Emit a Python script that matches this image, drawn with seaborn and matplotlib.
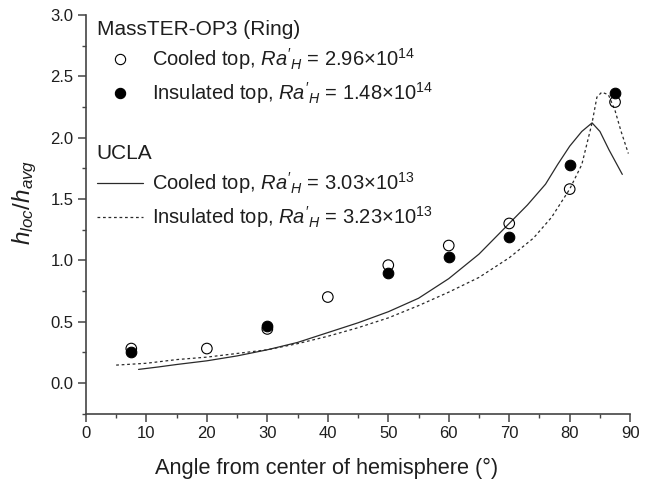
import numpy as np
import pandas as pd
import matplotlib
matplotlib.use("Agg")
import matplotlib.pyplot as plt
from matplotlib.lines import Line2D
from matplotlib.ticker import MultipleLocator
import seaborn as sns

# MassTER-OP3 (Ring) measurements
cooled_angle = [7.5, 20, 30, 40, 50, 60, 70, 80, 87.5]
cooled_h = [0.28, 0.28, 0.44, 0.70, 0.96, 1.12, 1.30, 1.58, 2.29]
insul_angle = [7.5, 30, 50, 60, 70, 80, 87.5]
insul_h = [0.25, 0.46, 0.90, 1.03, 1.19, 1.78, 2.36]

# UCLA profiles
ucla_cooled_angle = [8.7, 12, 15, 20, 25, 30, 35, 40, 45, 50, 55, 60, 65, 70,
                     73, 76, 78, 80, 82, 83.7, 85, 86.5, 88.7]
ucla_cooled_h = [0.11, 0.13, 0.15, 0.18, 0.22, 0.27, 0.33, 0.41, 0.49, 0.58,
                 0.69, 0.85, 1.05, 1.30, 1.45, 1.62, 1.78, 1.93, 2.05, 2.12,
                 2.05, 1.90, 1.70]
ucla_insul_angle = [5, 10, 15, 20, 25, 30, 35, 40, 45, 50, 55, 60, 65, 70, 74,
                    77, 80, 82, 83.7, 84.5, 85.3, 86.4, 87.5, 88.5, 89.7]
ucla_insul_h = [0.145, 0.16, 0.19, 0.21, 0.24, 0.27, 0.32, 0.38, 0.45, 0.53,
                0.63, 0.74, 0.86, 1.02, 1.18, 1.35, 1.58, 1.78, 2.12, 2.33,
                2.37, 2.35, 2.22, 2.05, 1.87]

lbl_c1 = r"Cooled top, $Ra'_{H}$ = 2.96×10$^{14}$"
lbl_i1 = r"Insulated top, $Ra'_{H}$ = 1.48×10$^{14}$"
lbl_c2 = r"Cooled top, $Ra'_{H}$ = 3.03×10$^{13}$"
lbl_i2 = r"Insulated top, $Ra'_{H}$ = 3.23×10$^{13}$"

sns.set_theme(style="ticks")
plt.rcParams["font.family"] = ["Liberation Sans", "DejaVu Sans"]
plt.rcParams["mathtext.fontset"] = "custom"
plt.rcParams["mathtext.rm"] = "Liberation Sans"
plt.rcParams["mathtext.it"] = "Liberation Sans:italic"
plt.rcParams["mathtext.bf"] = "Liberation Sans:bold"

fig = plt.figure(figsize=(6.51, 4.82), dpi=100)
ax = fig.add_axes([0.132, 0.142, 0.836, 0.827])

ink = "#2a2a2a"
spine = "#444444"
txt = "#1e1e1e"

sns.lineplot(x=ucla_cooled_angle, y=ucla_cooled_h, sort=False, ax=ax,
             color=ink, lw=0.9, linestyle="-")
sns.lineplot(x=ucla_insul_angle, y=ucla_insul_h, sort=False, ax=ax,
             color=ink, lw=0.9, linestyle=(0, (2.2, 2.2)))
sns.scatterplot(x=insul_angle, y=insul_h, ax=ax, marker="o", s=58,
                color="black", edgecolor="black", linewidth=0.8, zorder=3)
sns.scatterplot(x=cooled_angle, y=cooled_h, ax=ax, marker="o", s=58,
                facecolor="none", edgecolor="black", linewidth=0.8, zorder=4)

ax.set_xlim(0, 90)
ax.set_ylim(-0.25, 3.0)
ax.xaxis.set_major_locator(MultipleLocator(10))
ax.xaxis.set_minor_locator(MultipleLocator(5))
ax.yaxis.set_minor_locator(MultipleLocator(0.25))
ax.set_yticks([0.0, 0.5, 1.0, 1.5, 2.0, 2.5, 3.0])
ax.set_yticklabels(["0.0", "0.5", "1.0", "1.5", "2.0", "2.5", "3.0"])

for s in ["top", "right"]:
    ax.spines[s].set_visible(False)
for s in ["left", "bottom"]:
    ax.spines[s].set_color(spine)
    ax.spines[s].set_linewidth(1.2)
ax.tick_params(which="major", direction="out", length=6, width=1.1,
               color=spine, labelsize=12, labelcolor=txt, pad=3)
ax.tick_params(which="minor", direction="out", length=3, width=1.0,
               color=spine)

ax.set_xlabel("Angle from center of hemisphere (°)", fontsize=15.7,
              color=txt)
ax.xaxis.set_label_coords(0.442, -0.11)
ax.set_ylabel(r"$h_{loc}/h_{avg}$", fontsize=17.5, color=txt)
ax.yaxis.set_label_coords(-0.086, 0.531)

common = dict(frameon=False, fontsize=14.5, handlelength=2.3,
              handletextpad=0.45, labelspacing=0.38, borderaxespad=0,
              borderpad=0, alignment="left", title_fontsize=15,
              labelcolor=txt)

h1 = [Line2D([], [], ls="none", marker="o", ms=7.4, mfc="none", mec="black",
             mew=0.8),
      Line2D([], [], ls="none", marker="o", ms=7.4, mfc="black", mec="black",
             mew=0.8)]
leg1 = ax.legend(h1, [lbl_c1, lbl_i1], title="MassTER-OP3 (Ring)",
                 loc="upper left", bbox_to_anchor=(0.02, 0.988), **common)
leg1.get_title().set_color(txt)
ax.add_artist(leg1)

h2 = [Line2D([], [], color=ink, lw=0.9, ls="-"),
      Line2D([], [], color=ink, lw=0.9, ls=(0, (2.2, 2.2)))]
leg2 = ax.legend(h2, [lbl_c2, lbl_i2], title="UCLA",
                 loc="upper left", bbox_to_anchor=(0.02, 0.677), **common)
leg2.get_title().set_color(txt)

fig.savefig("out.png", dpi=100)
